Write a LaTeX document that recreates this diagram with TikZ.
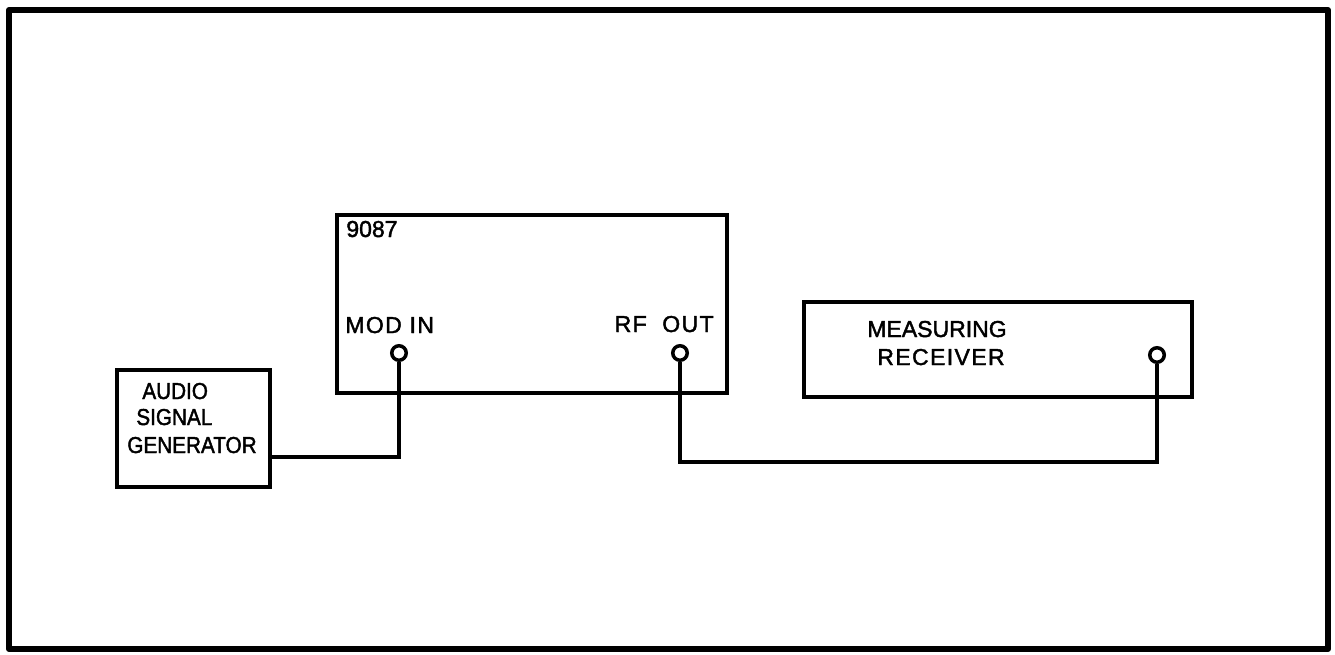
\documentclass[tikz,border=0pt]{standalone}
\usepackage{fontspec}
\setmainfont[FakeBold=1.8]{Liberation Sans}
\usetikzlibrary{positioning}
\tikzset{
  unit/.style={draw,line width=2pt,minimum width=#1,inner sep=0pt},
  jack/.style={draw,circle,line width=2pt,minimum size=0.29cm,inner sep=0pt},
  wire/.style={line width=1.9pt},
  lbl/.style={inner sep=0pt,font=\fontsize{13.1}{15.6}\selectfont},
  narrow/.style={font=\fontsize{13.1}{15.6}\selectfont\addfontfeature{FakeStretch=0.9}},
  spaced/.style={font=\fontsize{13.1}{15.6}\selectfont\addfontfeature{LetterSpace=6}}
}
\begin{document}
\begin{tikzpicture}[x=0.02cm,y=-0.02cm]
\useasboundingbox (0,0) rectangle (1335,655);
\draw[line width=3.4pt,line join=round] (9,10) rectangle (1328,649);
% units
\node[unit=3.06cm,minimum height=2.34cm] (gen) at (193.5,428.5) {};
\node[unit=7.8cm,minimum height=3.56cm] (sig) at (532,304) {};
\node[unit=7.76cm,minimum height=1.9cm] (rx) at (998,349.5) {};
% texts
\node[lbl,narrow,anchor=base west] (audio) at (142,399) {AUDIO};
\node[lbl,narrow,anchor=base west] (signal) at (136,425) {SIGNAL};
\node[lbl,narrow,anchor=base west] (genword) at (127,453) {GENERATOR};
\node[lbl,anchor=base west] (num) at (346,237) {9087};
\node[lbl,spaced,anchor=base west] (modtxt) at (345,333) {MOD IN};
\node[lbl,spaced,anchor=base east] (rftxt) at (714,332) {RF\ \ OUT};
\node[lbl,anchor=base] (meas) at (937,337) {MEASURING};
\node[lbl,spaced,anchor=base] (recv) at (941,365) {RECEIVER};
% connectors
\node[jack] (modin) at (399,353) {};
\node[jack] (rfout) at (680,353) {};
\node[jack] (rxin) at (1157,355) {};
\coordinate (low) at (0,462);
\draw[wire] (modin.south) |- ([yshift=-0.57cm]gen.east);
\draw[wire] (rfout.south) -- (rfout |- low) -| (rxin.south);
\end{tikzpicture}
\end{document}
